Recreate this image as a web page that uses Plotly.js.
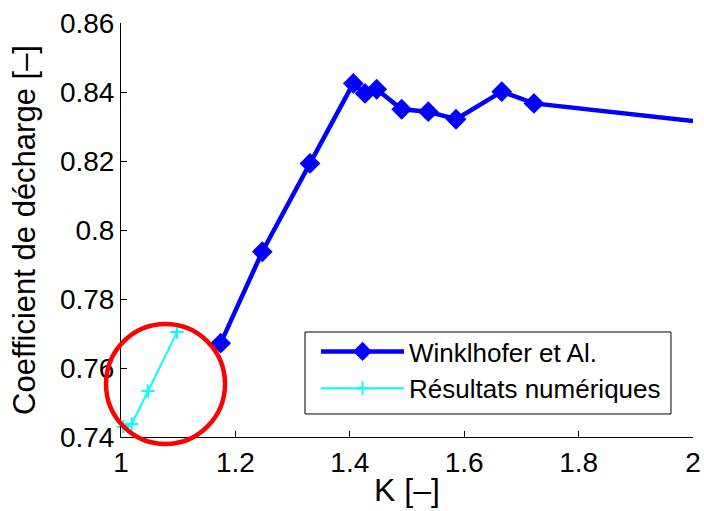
<!DOCTYPE html>
<html>
<head>
<meta charset="utf-8">
<script src="https://cdn.plot.ly/plotly-3.0.1.min.js"></script>
<style>html,body{margin:0;padding:0;background:#fff;}#chart{width:704px;height:511px;}</style>
</head>
<body>
<div id="chart"></div>
<script>
// Winklhofer et Al. (experimental)
const kWinklhofer = [1.1743, 1.2470, 1.3304, 1.4061, 1.4266, 1.4470, 1.4907, 1.5372, 1.5857, 1.6656, 1.7220, 2.0];
const cdWinklhofer = [0.7672, 0.7937, 0.8193, 0.8425, 0.8396, 0.8408, 0.8350, 0.8343, 0.8321, 0.8401, 0.8367, 0.8316];
// Résultats numériques
const kNum = [1.004, 1.0187, 1.0472, 1.0979];
const cdNum = [0.7430, 0.7438, 0.7533, 0.7704];
const xTicks = [1, 1.2, 1.4, 1.6, 1.8, 2];
const xTickLabels = ['1', '1.2', '1.4', '1.6', '1.8', '2'];
const yTicks = [0.74, 0.76, 0.78, 0.8, 0.82, 0.84, 0.86];
const yTickLabels = ['0.74', '0.76', '0.78', '0.8', '0.82', '0.84', '0.86'];

const FONT = 'Liberation Sans, Arial, Helvetica, sans-serif';
const markerSizes = kWinklhofer.map((k, i) => i === kWinklhofer.length - 1 ? 0 : 16);

const traces = [
  {
    x: kWinklhofer, y: cdWinklhofer, type: 'scatter', mode: 'lines+markers',
    name: 'Winklhofer et Al.',
    line: {color: '#0000ff', width: 4.5},
    marker: {symbol: 'diamond', size: markerSizes, color: '#0000ff', opacity: 1, line: {width: 0}},
    cliponaxis: true
  },
  {
    x: kNum, y: cdNum, type: 'scatter', mode: 'lines+markers',
    name: 'Résultats numériques',
    line: {color: '#00ffff', width: 2},
    marker: {symbol: 'cross-thin-open', size: 9.5, color: '#00ffff', opacity: 1, line: {color: '#00ffff', width: 2}},
    cliponaxis: false
  }
];

const layout = {
  width: 704, height: 511,
  margin: {l: 121, r: 11, t: 23, b: 74},
  paper_bgcolor: '#ffffff', plot_bgcolor: '#ffffff',
  font: {family: FONT, size: 26, color: '#000'},
  showlegend: true,
  xaxis: {
    range: [1, 2], tickvals: xTicks, ticktext: xTickLabels,
    ticks: 'inside', ticklen: 6, tickwidth: 1, tickcolor: '#000',
    showline: true, linecolor: '#000', linewidth: 1, mirror: false,
    showgrid: false, zeroline: false,
    tickfont: {family: FONT, size: 28, color: '#000'},
    title: {text: 'K [–]', font: {family: FONT, size: 32, color: '#000'}, standoff: 2}
  },
  yaxis: {
    range: [0.74, 0.86], tickvals: yTicks, ticktext: yTickLabels,
    ticks: 'inside', ticklen: 6, tickwidth: 1, tickcolor: '#000',
    showline: true, linecolor: '#000', linewidth: 1, mirror: false,
    showgrid: false, zeroline: false,
    tickfont: {family: FONT, size: 28, color: '#000'},
    title: {text: 'Coefficient de décharge [–]', font: {family: FONT, size: 31, color: '#000'}, standoff: 15}
  },
  legend: {
    x: 0.341, xanchor: 'left', y: 0.2633, yanchor: 'top',
    xref: 'paper', yref: 'paper',
    bgcolor: 'rgba(0,0,0,0)', borderwidth: 0,
    font: {family: FONT, size: 26, color: '#000'},
    itemwidth: 83,
    tracegroupgap: 0
  },
  shapes: [
    {type: 'rect', xref: 'paper', yref: 'paper',
     x0: 0.3217, x1: 0.9615, y0: 0.0556, y1: 0.2536,
     fillcolor: '#ffffff', line: {color: '#000', width: 1}, layer: 'above'},
    {type: 'circle', xref: 'paper', yref: 'paper',
     x0: -0.0262, x1: 0.1818, y0: -0.0169, y1: 0.2729,
     line: {color: '#ff0000', width: 4.5}, layer: 'above'}
  ]
};

Plotly.newPlot('chart', traces, layout, {staticPlot: true, displayModeBar: false});
</script>
</body>
</html>
